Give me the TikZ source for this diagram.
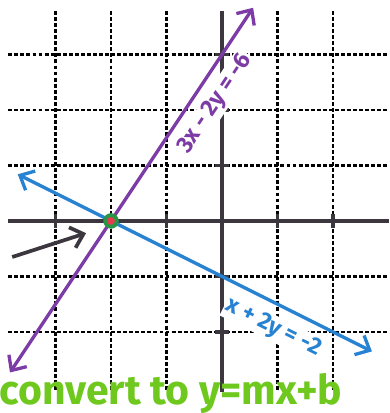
\documentclass[tikz,border=0pt]{standalone}
\usepackage{fontspec}
\setmainfont{Fira Sans}
\usetikzlibrary{arrows.meta}

\definecolor{lineviolet}{RGB}{125,60,165}
\definecolor{lineblue}{RGB}{40,130,210}
\definecolor{axisgray}{RGB}{60,55,62}
\definecolor{markergreen}{RGB}{110,200,30}
\definecolor{dotgreen}{RGB}{40,150,70}
\definecolor{dotred}{RGB}{230,60,75}

\begin{document}
\begin{tikzpicture}[
  >={Straight Barb[length=6pt,width=11pt]},
  gridline/.style={black, line width=1.2pt, dash pattern=on 2pt off 1.1pt},
  axisline/.style={axisgray, line width=1.7pt},
  graphline/.style={line width=1.7pt, <->},
  eqlabel/.style={fill=white, inner sep=1pt, font=\bfseries\fontsize{12}{12}\selectfont}
]
\useasboundingbox (-4,-3.46) rectangle (3.01,3.98);

% Grid
\foreach \x in {-3,-2,-1,1,2}
  \draw[gridline] (\x,3.78) -- (\x,-3.08);
\foreach \y in {-2,-1,1,2,3}
  \draw[gridline] (-3.85,\y) -- (3.01,\y);

% Axes
\draw[axisline] (-3.85,0) -- (3.01,0);
\draw[axisline] (0,3.78) -- (0,-3.08);
\foreach \x in {-3,-2,-1,1,2}
  \draw[axisline] (\x,0.12) -- (\x,-0.12);
\foreach \y in {-2,-1,1,2,3}
  \draw[axisline] (-0.12,\y) -- (0.12,\y);

% Labels
\node[eqlabel, text=lineviolet, rotate=56.3] (eqviolet) at (-0.12,2.11) {3x - 2y = -6};
\node[eqlabel, text=lineblue, rotate=-26.6] (eqblue) at (0.92,-1.93) {x + 2y = -2};

% 3x - 2y = -6
\coordinate (vtop) at (0.56,3.84);
\coordinate (vbot) at (-3.82,-2.73);
\draw[graphline, lineviolet] (vbot) -- (vtop);

% x + 2y = -2
\coordinate (bleft) at (-3.68,0.84);
\coordinate (bright) at (2.7,-2.35);
\draw[graphline, lineblue] (bleft) -- (bright);

% Solution point
\coordinate (sol) at (-2,0);
\fill[dotgreen] (sol) circle (0.14);
\fill[dotred] (sol) circle (0.07);

% Pointer
\coordinate (ptail) at (-3.78,-0.65);
\coordinate (phead) at (-2.45,-0.22);
\draw[axisline, line width=1.9pt, ->] (ptail) -- (phead);

\node[anchor=base west, text=markergreen, inner sep=0pt,
  font=\bfseries\fontsize{21}{21}\selectfont] (note) at (-4.02,-3.31) {convert to y=mx+b};

\end{tikzpicture}
\end{document}
